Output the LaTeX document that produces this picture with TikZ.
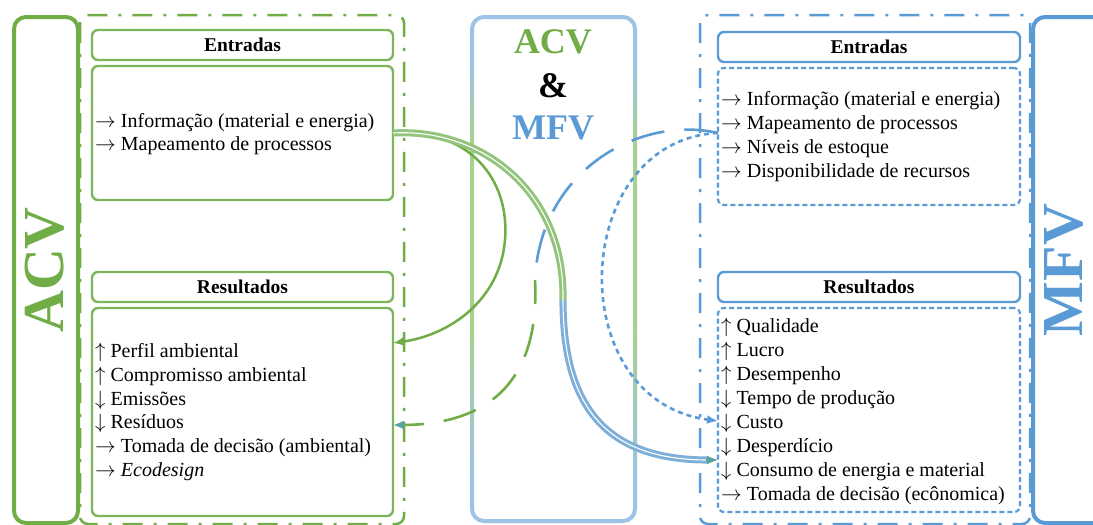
\documentclass[tikz,border=0pt]{standalone}
\usepackage{fontspec}
\setmainfont{Liberation Serif}
\usetikzlibrary{arrows.meta,calc}
\definecolor{gA}{HTML}{70AD47}
\definecolor{gB}{HTML}{7DB65A}
\definecolor{gL}{HTML}{A9D18E}
\definecolor{gM}{HTML}{93C47D}
\definecolor{bA}{HTML}{5B9BD5}
\definecolor{bL}{HTML}{9DC3E6}
\definecolor{bM}{HTML}{7EAFD9}
\definecolor{teal}{HTML}{5BA3A0}
\newcommand{\ra}{$\rightarrow$}
\newcommand{\ua}{$\uparrow$}
\newcommand{\da}{$\downarrow$}
\tikzset{
  bar/.style={draw, line width=4pt, rounded corners=12pt, anchor=north west, inner sep=0pt, outer sep=0pt},
  frame/.style={line width=2.5pt, rounded corners=8pt, dash pattern=on 20pt off 11pt on 3pt off 11pt},
  gbox/.style={draw=gB, line width=2.4pt, rounded corners=6pt, anchor=north west, inner sep=0pt, outer sep=0pt},
  bbox/.style={draw=bA, line width=2.4pt, rounded corners=6pt, anchor=north west, inner sep=0pt, outer sep=0pt},
  bdbox/.style={draw=bA, line width=2.2pt, rounded corners=6pt, dash pattern=on 5pt off 3pt, anchor=north west, inner sep=0pt, outer sep=0pt},
  head/.style={font=\fontsize{19.5}{23}\selectfont\bfseries},
  txt/.style={font=\fontsize{20}{23.7}\selectfont, align=left, anchor=west, inner sep=0pt},
  txtb/.style={font=\fontsize{20}{24}\selectfont, align=left, anchor=west, inner sep=0pt},
  big/.style={font=\fontsize{58}{60}\selectfont\bfseries, rotate=90},
  mid/.style={font=\fontsize{36}{40}\selectfont\bfseries},
  tip/.style={-{Latex[length=11pt,width=9pt]}},
  dbl/.style={line width=3pt, double=white, double distance=1.1pt}
}
\begin{document}
\begin{tikzpicture}[x=1pt,y=-1pt]
\useasboundingbox (0,0) rectangle (1093,525);
\fill[white] (0,0) rectangle (1093,525);
\clip (0,0) rectangle (1093,525);

% outer dash-dot frames
\draw[frame, gA] (80,15) rectangle (404,524);
\draw[frame, bA] (700,15) rectangle (1030,524);

% side bars
\node[bar, draw=gA, fill=white, minimum width=64pt, minimum height=506pt] (acvbar) at (14,17) {};
\node[big, text=gA] (acvtxt) at (45,270) {ACV};
\node[bar, draw=bA, fill=white, minimum width=80pt, minimum height=506pt] (mfvbar) at (1033,17) {};
\node[big, text=bA] (mfvtxt) at (1064,270) {MFV};

% middle box with vertical colour gradient on its sides
\node[bar, draw=bL, minimum width=163pt, minimum height=504pt] (midbox) at (472,17) {};
\foreach \yy in {40,43,...,500} {
  \pgfmathtruncatemacro\p{\yy<60 ? 0 : (\yy<140 ? (\yy-60)/80*100 : (\yy<330 ? 100 : (\yy<480 ? (480-\yy)/150*100 : 0)))}
  \draw[line width=4pt, color=gL!\p!bL] (472,\yy) -- (472,\yy+3.6) (635,\yy) -- (635,\yy+3.6);
}
\node[mid, text=gA] (m1) at (553,42) {ACV};
\node[mid, text=black] (m2) at (553,86) {\&};
\node[mid, text=bA] (m3) at (553,128) {MFV};

% left boxes
\node[gbox, minimum width=301pt, minimum height=30pt] (leh) at (92,30) {};
\node[head] at (leh.center) {Entradas};
\node[gbox, minimum width=301pt, minimum height=134pt] (lec) at (92,66) {};
\node[txt] (let) at (95,134) {\ra\ Informação (material e energia)\\\ra\ Mapeamento de processos};
\node[gbox, minimum width=301pt, minimum height=30pt] (lrh) at (92,272) {};
\node[head] at (lrh.center) {Resultados};
\node[gbox, minimum width=301pt, minimum height=208pt] (lrc) at (92,308) {};
\node[txt] (lrt) at (95,412) {\ua\ Perfil ambiental\\\ua\ Compromisso ambiental\\\da\ Emissões\\\da\ Resíduos\\\ra\ Tomada de decisão (ambiental)\\\ra\ \textit{Ecodesign}};

% right boxes
\node[bbox, minimum width=302pt, minimum height=30pt] (reh) at (718,32) {};
\node[head] at (reh.center) {Entradas};
\node[bdbox, minimum width=302pt, minimum height=137pt] (rec) at (718,68) {};
\node[txtb] (ret) at (721,137) {\ra\ Informação (material e energia)\\\ra\ Mapeamento de processos\\\ra\ Níveis de estoque\\\ra\ Disponibilidade de recursos};
\node[bbox, minimum width=302pt, minimum height=30pt] (rrh) at (718,272) {};
\node[head] at (rrh.center) {Resultados};
\node[bdbox, minimum width=302pt, minimum height=204pt] (rrc) at (718,308) {};
\node[txtb] (rrt) at (721,411) {\ua\ Qualidade\\\ua\ Lucro\\\ua\ Desempenho\\\da\ Tempo de produção\\\da\ Custo\\\da\ Desperdício\\\da\ Consumo de energia e material\\\ra\ Tomada de decisão (ecônomica)};

% connector end points on box edges
\coordinate (a1) at (lec.east |- 0,133);
\coordinate (a2) at (lrc.east |- 0,343);
\coordinate (a3) at (lrc.east |- 0,425);
\coordinate (b1) at (rec.west |- 0,133);
\coordinate (b2) at (rrc.west |- 0,421);
\coordinate (b3) at (rrc.west |- 0,460);
\coordinate (mA) at (563,300);
\coordinate (mB) at (535,280);

% green solid arc
\draw[gA, line width=2.5pt, tip] (a1) .. controls (470,128) and (510,180) .. (505,240) .. controls (500,300) and (450,335) .. (a2);

% double line from left Entradas to right Resultados
\draw[gM, dbl] (a1) .. controls (480,128) and (565,190) .. (mA);
\draw[bM, dbl] (mA) .. controls (563,400) and (600,460) .. ($(b3)+(-10,0)$);
\draw[teal, line width=1.2pt, tip] ($(b3)+(-12,0)$) -- (b3);

% long dashed arc from right Entradas to left Resultados
\draw[bA, line width=2.6pt, dash pattern=on 34pt off 20pt] (b1) .. controls (640,115) and (540,170) .. (mB);
\draw[gA, line width=2.6pt, dash pattern=on 34pt off 20pt, dash phase=10pt] (mB) .. controls (540,380) and (490,425) .. ($(a3)+(8,0)$);
\draw[teal, line width=2pt, tip] ($(a3)+(10,0)$) -- (a3);

% dotted arc from right Entradas to right Resultados
\draw[bA, line width=2.6pt, dash pattern=on 5pt off 4pt, tip] (b1) .. controls (570,140) and (560,400) .. (b2);
\end{tikzpicture}
\end{document}
